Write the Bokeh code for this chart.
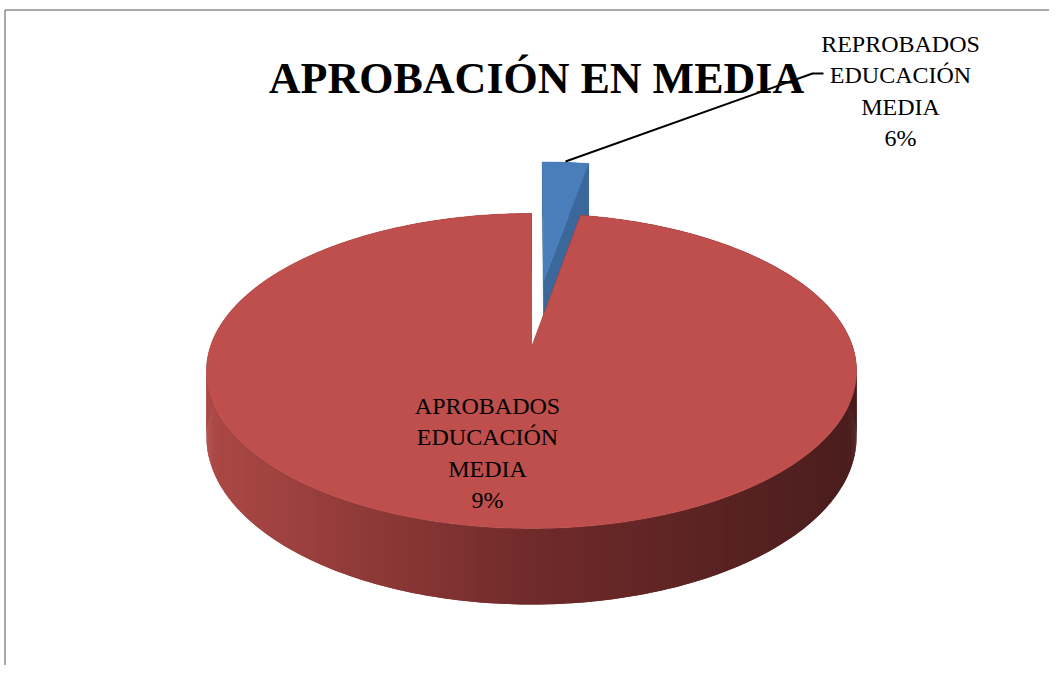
import math
from bokeh.plotting import figure
from bokeh.models import Range1d
from bokeh.core.properties import value
from bokeh.embed import file_html
from bokeh.resources import INLINE

# ---------------- data ----------------
categories = ["REPROBADOS EDUCACIÓN MEDIA", "APROBADOS EDUCACIÓN MEDIA"]
shares = [2.8, 97.2]                 # slice sizes as drawn
pct_labels = ["6%", "9%"]            # label texts shown on the chart
label_lines = [["REPROBADOS", "EDUCACIÓN", "MEDIA"], ["APROBADOS", "EDUCACIÓN", "MEDIA"]]
title = "APROBACIÓN EN MEDIA"

# ---------------- styling / geometry ----------------
W, H = 1049, 665
top_colors = ["#4A7EBB", "#BE4F4C"]
cut_colors = ["#3B679B", "#6E2A2A"]
explode = [0.47, 0.0]

CX, CY = 531.0, 347.0      # projected pie centre (page px)
AX, BZ = 321.4, 154.0      # horizontal / depth scale
K = 0.149                  # perspective factor
TH = 64.7                  # thickness
START = 90.0               # first slice starts at 12 o'clock, clockwise


def proj(x, z, h=0.0):
    s = 1.0 / (1.0 + K * z)
    return CX + AX * x * s, CY - BZ * z * s + h * TH * s


def lerp_col(t):
    stops = [(0.0, (172, 73, 70)), (0.5, (112, 42, 42)), (1.0, (74, 29, 29))]
    for (t0, c0), (t1, c1) in zip(stops[:-1], stops[1:]):
        if t <= t1:
            f = (t - t0) / (t1 - t0)
            c = [int(round(a + (b - a) * f)) for a, b in zip(c0, c1)]
            return "#%02x%02x%02x" % tuple(c)
    return "#%02x%02x%02x" % stops[-1][1]


p = figure(width=W, height=H, output_backend="svg", toolbar_location=None,
           x_range=Range1d(0, W), y_range=Range1d(H, 0),
           min_border=0, outline_line_color=None)
p.axis.visible = False
p.grid.visible = False
p.background_fill_color = "white"

# border (top and left edges of the chart frame)
p.segment(x0=[4.5, 4.5], y0=[9.5, 9.5], x1=[W, 4.5], y1=[9.5, H],
          line_color="#8c8c8c", line_width=1.5)

total = sum(shares)
a0 = START
slices = []
for i, v in enumerate(shares):
    sweep = 360.0 * v / total
    slices.append((a0, a0 - sweep))
    a0 -= sweep

for i in [0, 1]:
    a_start, a_end = slices[i]
    mid = math.radians((a_start + a_end) / 2)
    ox, oz = explode[i] * math.cos(mid), explode[i] * math.sin(mid)
    n = max(8, int(abs(a_start - a_end) * 2))
    step = (a_end - a_start) / n
    angs = [a_start + step * j for j in range(n + 1)]

    xs, ys, cols = [], [], []
    # outer side quads (slightly overlapping to avoid seams)
    for j in range(n):
        a1 = math.radians(angs[j])
        a2 = math.radians(angs[j] + step * (2.0 if j < n - 1 else 1.0))
        x1, z1 = ox + math.cos(a1), oz + math.sin(a1)
        x2, z2 = ox + math.cos(a2), oz + math.sin(a2)
        q = [proj(x1, z1), proj(x2, z2), proj(x2, z2, 1), proj(x1, z1, 1)]
        xs.append([c[0] for c in q])
        ys.append([c[1] for c in q])
        if i == 1:
            um = (q[0][0] + q[1][0]) / 2
            cols.append(lerp_col(min(1, max(0, (um - 206) / (855 - 206)))))
        else:
            cols.append(cut_colors[0])
    p.patches(xs, ys, fill_color=cols, line_color=None)

    pts = [(ox + math.cos(math.radians(a)), oz + math.sin(math.radians(a))) for a in angs]
    # cut faces
    cxs, cys = [], []
    for (ex, ez) in [pts[0], pts[-1]]:
        q = [proj(ox, oz), proj(ex, ez), proj(ex, ez, 1), proj(ox, oz, 1)]
        cxs.append([c[0] for c in q])
        cys.append([c[1] for c in q])
    p.patches(cxs, cys, fill_color=cut_colors[i], line_color=cut_colors[i], line_width=0.5)

    # top face
    tq = [proj(ox, oz)] + [proj(x, z) for x, z in pts]
    p.patch([c[0] for c in tq], [c[1] for c in tq], fill_color=top_colors[i],
            line_color=top_colors[i], line_width=0.5)

# leader line for the small slice
bx, by = 565, 161
p.line(x=[bx, 812, 823], y=[by, 73, 73], line_color="black", line_width=2)

# title
p.text(x=[536], y=[78], text=[title], text_font=value("Liberation Serif"),
       text_font_style="bold", text_font_size="44px", text_align="center",
       text_baseline="alphabetic", text_color="black")

# data labels
label_pos = [(900, 43), (487, 405)]
for i, (lx, ly) in enumerate(label_pos):
    lines = label_lines[i] + [pct_labels[i]]
    p.text(x=[lx] * len(lines), y=[ly + 31.5 * k for k in range(len(lines))], text=lines,
           text_font=value("Liberation Serif"), text_font_size="24px",
           text_align="center", text_baseline="alphabetic", text_color="black")

open("out.html", "w").write(file_html(p, INLINE))
